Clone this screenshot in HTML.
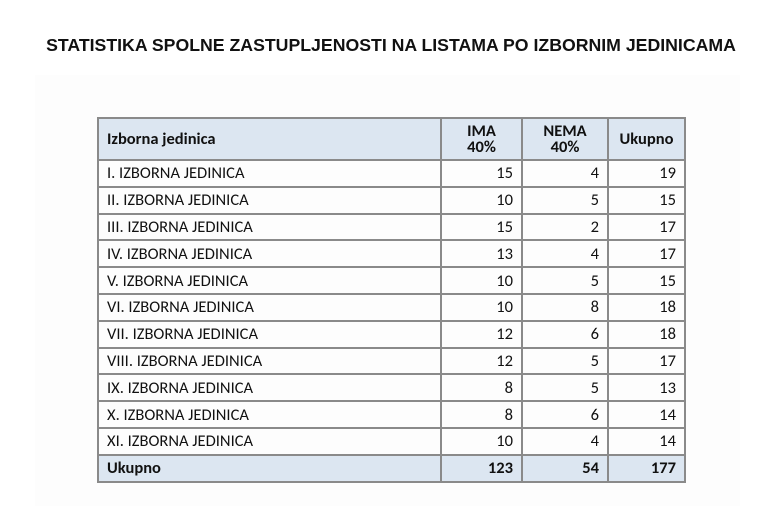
<!DOCTYPE html>
<html><head><style>
body{margin:0;width:760px;height:506px;background:#fff;position:relative;overflow:hidden;font-family:"Liberation Sans",sans-serif}
.panel{position:absolute;left:35px;top:75px;width:705px;height:431px;background:#fdfdfd}
h1{position:absolute;top:35px;left:0;width:782px;text-align:center;margin:0;font-size:17.7px;font-weight:bold;color:#111}
table{position:absolute;left:97px;top:117px;border-collapse:collapse;font-family:"Carlito","Liberation Sans",sans-serif;font-size:16.5px;color:#111}
td{border:2px solid #8a8a8a;height:24.8px;padding:0 8px;line-height:16px}
td.n{text-align:right}
tr.h td{background:#dce6f1;font-weight:bold;height:40px}
tr.h td.c{text-align:center}
tr.t td{background:#dce6f1;font-weight:bold}
</style></head><body>
<div class="panel"></div>
<h1>STATISTIKA SPOLNE ZASTUPLJENOSTI NA LISTAMA PO IZBORNIM JEDINICAMA</h1>
<table>
<colgroup><col style="width:343px"><col style="width:81px"><col style="width:86px"><col style="width:77px"></colgroup>
<tr class="h"><td>Izborna jedinica</td><td class="c">IMA<br>40%</td><td class="c">NEMA<br>40%</td><td class="c">Ukupno</td></tr>
<tr><td>I. IZBORNA JEDINICA</td><td class="n">15</td><td class="n">4</td><td class="n">19</td></tr>
<tr><td>II. IZBORNA JEDINICA</td><td class="n">10</td><td class="n">5</td><td class="n">15</td></tr>
<tr><td>III. IZBORNA JEDINICA</td><td class="n">15</td><td class="n">2</td><td class="n">17</td></tr>
<tr><td>IV. IZBORNA JEDINICA</td><td class="n">13</td><td class="n">4</td><td class="n">17</td></tr>
<tr><td>V. IZBORNA JEDINICA</td><td class="n">10</td><td class="n">5</td><td class="n">15</td></tr>
<tr><td>VI. IZBORNA JEDINICA</td><td class="n">10</td><td class="n">8</td><td class="n">18</td></tr>
<tr><td>VII. IZBORNA JEDINICA</td><td class="n">12</td><td class="n">6</td><td class="n">18</td></tr>
<tr><td>VIII. IZBORNA JEDINICA</td><td class="n">12</td><td class="n">5</td><td class="n">17</td></tr>
<tr><td>IX. IZBORNA JEDINICA</td><td class="n">8</td><td class="n">5</td><td class="n">13</td></tr>
<tr><td>X. IZBORNA JEDINICA</td><td class="n">8</td><td class="n">6</td><td class="n">14</td></tr>
<tr><td>XI. IZBORNA JEDINICA</td><td class="n">10</td><td class="n">4</td><td class="n">14</td></tr>
<tr class="t"><td>Ukupno</td><td class="n">123</td><td class="n">54</td><td class="n">177</td></tr>
</table>
</body></html>
